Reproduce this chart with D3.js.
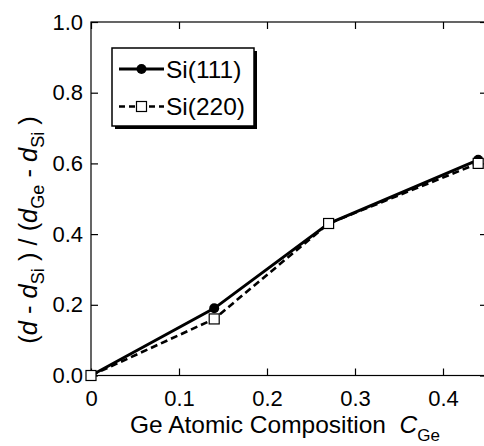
<!DOCTYPE html>
<html>
<head>
<meta charset="utf-8">
<script src="https://cdn.jsdelivr.net/npm/d3@7"></script>
<style>
  html, body { margin: 0; padding: 0; background: #fff; }
  svg { display: block; font-family: "Liberation Sans", Arial, sans-serif; }
</style>
</head>
<body>
<svg id="chart" width="484" height="446"></svg>
<script>
// ---- data ----
const composition = [0, 0.14, 0.27, 0.44];
const si111 = [0, 0.19, 0.43, 0.61];
const si220 = [0, 0.16, 0.43, 0.60];
const seriesNames = ["Si(111)", "Si(220)"];
const xTickValues = [0, 0.1, 0.2, 0.3, 0.4];
const xTickLabels = ["0", "0.1", "0.2", "0.3", "0.4"];
const yTickValues = [0, 0.2, 0.4, 0.6, 0.8, 1.0];
const yTickLabels = ["0.0", "0.2", "0.4", "0.6", "0.8", "1.0"];

const svg = d3.select("#chart");
const L = 91, R = 487, T = 22, B = 375.5;
const x = d3.scaleLinear().domain([0, 0.45]).range([L, R]);
const y = d3.scaleLinear().domain([0, 1.0]).range([B, T]);

// frame
svg.append("rect").attr("x", L).attr("y", T).attr("width", R - L).attr("height", B - T)
  .attr("fill", "none").attr("stroke", "#000").attr("stroke-width", 1.2);

// axes with inward ticks
const tk = 7;
svg.append("g").attr("transform", `translate(0,${B})`)
  .call(d3.axisBottom(x).tickValues(xTickValues).tickSize(-tk).tickFormat((d, i) => xTickLabels[i]).tickPadding(15))
  .call(g => g.select(".domain").remove());
svg.append("g").attr("transform", `translate(0,${T})`)
  .call(d3.axisTop(x).tickValues(xTickValues).tickSize(-tk).tickFormat(""))
  .call(g => g.select(".domain").remove());
svg.append("g").attr("transform", `translate(${L},0)`)
  .call(d3.axisLeft(y).tickValues(yTickValues).tickSize(-tk).tickFormat((d, i) => yTickLabels[i]).tickPadding(8))
  .call(g => g.select(".domain").remove());
svg.append("g").attr("transform", `translate(${R},0)`)
  .call(d3.axisRight(y).tickValues(yTickValues).tickSize(-tk).tickFormat(""))
  .call(g => g.select(".domain").remove());

svg.selectAll(".tick line").attr("stroke", "#000").attr("stroke-width", 1.2);
svg.selectAll(".tick text").attr("fill", "#000").attr("font-size", 22)
  .attr("font-family", "Liberation Sans, Arial, sans-serif");

// lines
const pts111 = composition.map((c, i) => [c, si111[i]]);
const pts220 = composition.map((c, i) => [c, si220[i]]);
const line = d3.line().x(d => x(d[0])).y(d => y(d[1]));

svg.append("path").datum(pts111).attr("d", line)
  .attr("fill", "none").attr("stroke", "#000").attr("stroke-width", 3);
svg.append("path").datum(pts220).attr("d", line)
  .attr("fill", "none").attr("stroke", "#000").attr("stroke-width", 2.6)
  .attr("stroke-dasharray", "7,4");

svg.selectAll(".m111").data(pts111).enter().append("circle")
  .attr("cx", d => x(d[0])).attr("cy", d => y(d[1])).attr("r", 5).attr("fill", "#000");
const sq = 10;
svg.selectAll(".m220").data(pts220).enter().append("rect")
  .attr("x", d => x(d[0]) - sq / 2).attr("y", d => y(d[1]) - sq / 2)
  .attr("width", sq).attr("height", sq)
  .attr("fill", "#fff").attr("stroke", "#000").attr("stroke-width", 1.2);

// legend
const lg = svg.append("g");
lg.append("rect").attr("x", 115).attr("y", 51).attr("width", 142).attr("height", 78).attr("fill", "#000");
lg.append("rect").attr("x", 112).attr("y", 48).attr("width", 142).attr("height", 78)
  .attr("fill", "#fff").attr("stroke", "#000").attr("stroke-width", 1.5);
const rows = [69, 106.5];
lg.append("line").attr("x1", 119).attr("x2", 164).attr("y1", rows[0]).attr("y2", rows[0])
  .attr("stroke", "#000").attr("stroke-width", 3);
lg.append("circle").attr("cx", 141.5).attr("cy", rows[0]).attr("r", 5).attr("fill", "#000");
lg.append("line").attr("x1", 119).attr("x2", 164).attr("y1", rows[1]).attr("y2", rows[1])
  .attr("stroke", "#000").attr("stroke-width", 2.6).attr("stroke-dasharray", "6,4");
lg.append("rect").attr("x", 141.5 - sq / 2).attr("y", rows[1] - sq / 2).attr("width", sq).attr("height", sq)
  .attr("fill", "#fff").attr("stroke", "#000").attr("stroke-width", 1.2);
seriesNames.forEach((n, i) => {
  lg.append("text").attr("x", 166).attr("y", rows[i] + 8.5).attr("font-size", 24.5).text(n);
});

// x title
const xt = svg.append("text").attr("x", 130).attr("y", 433).attr("font-size", 24.5);
xt.append("tspan").text("Ge Atomic Composition\u00a0\u00a0");
xt.append("tspan").attr("font-style", "italic").text("C");
xt.append("tspan").attr("font-size", 17).attr("dy", 8).text("Ge");

// y title
const yt = svg.append("text").attr("transform", "translate(37,230) rotate(-90)")
  .attr("text-anchor", "middle").attr("font-size", 25.5);
yt.append("tspan").text("(");
yt.append("tspan").attr("font-style", "italic").text("d");
yt.append("tspan").text(" - ");
yt.append("tspan").attr("font-style", "italic").text("d");
yt.append("tspan").attr("font-size", 18).attr("dy", 7).text("Si");
yt.append("tspan").attr("dy", -7).text("\u00a0) / (");
yt.append("tspan").attr("font-style", "italic").text("d");
yt.append("tspan").attr("font-size", 18).attr("dy", 7).text("Ge");
yt.append("tspan").attr("dy", -7).text(" - ");
yt.append("tspan").attr("font-style", "italic").text("d");
yt.append("tspan").attr("font-size", 18).attr("dy", 7).text("Si");
yt.append("tspan").attr("dy", -7).text("\u00a0)");
</script>
</body>
</html>
